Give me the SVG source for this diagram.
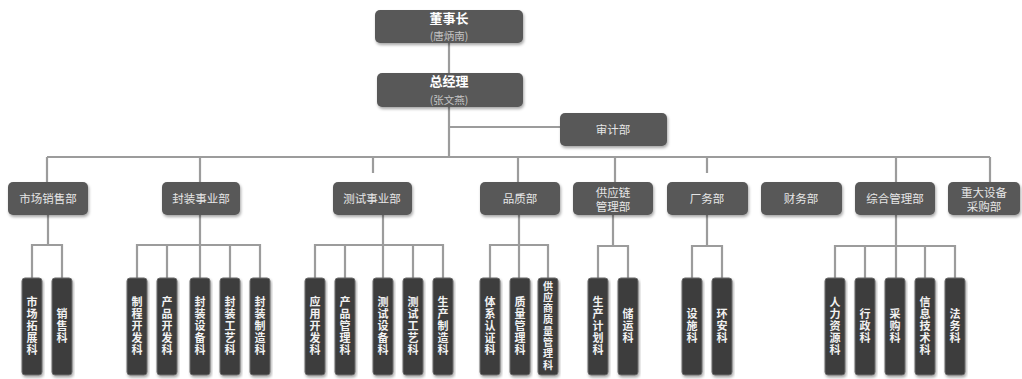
<svg xmlns="http://www.w3.org/2000/svg" width="1022" height="379" viewBox="0 0 1022 379">
<defs>
<filter id="sh" x="-10%" y="-10%" width="125%" height="135%">
<feDropShadow dx="1" dy="2" stdDeviation="1.5" flood-color="#000" flood-opacity="0.35"/>
</filter>
<style>
.box{fill:#595959;filter:url(#sh);}
.leaf{fill:#3e3e3e;stroke:#6a6a6a;stroke-width:1;filter:url(#sh);}
.ln{stroke:#9c9c9c;stroke-width:2.2;fill:none;}
.t{font-family:"Noto Sans CJK SC","Noto Sans",sans-serif;fill:#ffffff;text-anchor:middle;}
.big{font-size:13px;font-weight:bold;}
.sub{font-size:10.5px;fill:#c4c4c4;}
.dep{font-size:11.5px;fill:#e6e6e6;}
.lt{font-size:11px;font-weight:bold;fill:#f2f2f2;writing-mode:vertical-rl;letter-spacing:1px;}
.lt8{font-size:10px;letter-spacing:1.3px;}
</style>
</defs>
<rect width="1022" height="379" fill="#ffffff"/>
<g id="connectors">
<path class="ln" d="M449 43V157M449 127H560M47 157H990"/>
<path class="ln" d="M47 157V182M200 157V182M373 157V173M518 157V182M615 157V182M707 157V173M896 157V182M990 157V182"/>
<path class="ln" d="M48 215V245M32 278V245H62V278"/>
<path class="ln" d="M200 215V278M137 278V245H260V278M167 245V278M230 245V278"/>
<path class="ln" d="M383 215V278M315 278V245H443V278M345 245V278M413 245V278"/>
<path class="ln" d="M519 215V278M490 278V245H548V278"/>
<path class="ln" d="M613 215V246M598 278V246H628V278"/>
<path class="ln" d="M707 215V246M692 278V246H722V278"/>
<path class="ln" d="M896 215V278M835 278V246H955V278M865 246V278M925 246V278"/>
</g>
<g id="n-chairman"><rect class="box" x="375" y="10" width="148" height="33" rx="5"/><text class="t big" x="449" y="22.5">董事长</text><text class="t sub" x="449" y="40">(唐炳南)</text></g>
<g id="n-gm"><rect class="box" x="377" y="73" width="146" height="34" rx="5"/><text class="t big" x="449" y="86">总经理</text><text class="t sub" x="449" y="103.5">(张文燕)</text></g>
<g id="n-audit"><rect class="box" x="560" y="113" width="107" height="33" rx="5"/><text class="t dep" x="613" y="134">审计部</text></g>
<g id="n-sales"><rect class="box" x="8" y="182" width="80" height="33" rx="5"/><text class="t dep" x="48" y="203">市场销售部</text></g>
<g id="n-pack"><rect class="box" x="162" y="182" width="78" height="33" rx="5"/><text class="t dep" x="201" y="203">封装事业部</text></g>
<g id="n-test"><rect class="box" x="333" y="182" width="79" height="33" rx="5"/><text class="t dep" x="372" y="203">测试事业部</text></g>
<g id="n-quality"><rect class="box" x="480" y="182" width="80" height="33" rx="5"/><text class="t dep" x="520" y="203">品质部</text></g>
<g id="n-scm"><rect class="box" x="573" y="182" width="80" height="33" rx="5"/><text class="t dep" x="613" y="197">供应链</text><text class="t dep" x="613" y="211">管理部</text></g>
<g id="n-facility"><rect class="box" x="667" y="182" width="81" height="33" rx="5"/><text class="t dep" x="707" y="203">厂务部</text></g>
<g id="n-finance"><rect class="box" x="761" y="182" width="81" height="33" rx="5"/><text class="t dep" x="801" y="203">财务部</text></g>
<g id="n-admin"><rect class="box" x="855" y="182" width="80" height="33" rx="5"/><text class="t dep" x="895" y="203">综合管理部</text></g>
<g id="n-equip"><rect class="box" x="948" y="182" width="72" height="33" rx="5"/><text class="t dep" x="984" y="197">重大设备</text><text class="t dep" x="984" y="211">采购部</text></g>

<g id="l-1"><rect class="leaf" x="22" y="278" width="20" height="97" rx="3"/><text class="t lt" x="32" y="326">市场拓展科</text></g>
<g id="l-2"><rect class="leaf" x="52" y="278" width="20" height="97" rx="3"/><text class="t lt" x="62" y="326">销售科</text></g>
<g id="l-3"><rect class="leaf" x="127" y="278" width="20" height="97" rx="3"/><text class="t lt" x="137" y="326">制程开发科</text></g>
<g id="l-4"><rect class="leaf" x="157" y="278" width="20" height="97" rx="3"/><text class="t lt" x="167" y="326">产品开发科</text></g>
<g id="l-5"><rect class="leaf" x="190" y="278" width="20" height="97" rx="3"/><text class="t lt" x="200" y="326">封装设备科</text></g>
<g id="l-6"><rect class="leaf" x="220" y="278" width="20" height="97" rx="3"/><text class="t lt" x="230" y="326">封装工艺科</text></g>
<g id="l-7"><rect class="leaf" x="250" y="278" width="20" height="97" rx="3"/><text class="t lt" x="260" y="326">封装制造科</text></g>
<g id="l-8"><rect class="leaf" x="305" y="278" width="20" height="97" rx="3"/><text class="t lt" x="315" y="326">应用开发科</text></g>
<g id="l-9"><rect class="leaf" x="335" y="278" width="20" height="97" rx="3"/><text class="t lt" x="345" y="326">产品管理科</text></g>
<g id="l-10"><rect class="leaf" x="373" y="278" width="20" height="97" rx="3"/><text class="t lt" x="383" y="326">测试设备科</text></g>
<g id="l-11"><rect class="leaf" x="403" y="278" width="20" height="97" rx="3"/><text class="t lt" x="413" y="326">测试工艺科</text></g>
<g id="l-12"><rect class="leaf" x="433" y="278" width="20" height="97" rx="3"/><text class="t lt" x="443" y="326">生产制造科</text></g>
<g id="l-13"><rect class="leaf" x="480" y="278" width="20" height="97" rx="3"/><text class="t lt" x="490" y="326">体系认证科</text></g>
<g id="l-14"><rect class="leaf" x="510" y="278" width="20" height="97" rx="3"/><text class="t lt" x="520" y="326">质量管理科</text></g>
<g id="l-15"><rect class="leaf" x="538" y="278" width="20" height="97" rx="3"/><text class="t lt lt8" x="548" y="326">供应商质量管理科</text></g>
<g id="l-16"><rect class="leaf" x="588" y="278" width="20" height="97" rx="3"/><text class="t lt" x="598" y="326">生产计划科</text></g>
<g id="l-17"><rect class="leaf" x="618" y="278" width="20" height="97" rx="3"/><text class="t lt" x="628" y="326">储运科</text></g>
<g id="l-18"><rect class="leaf" x="682" y="278" width="20" height="97" rx="3"/><text class="t lt" x="692" y="326">设施科</text></g>
<g id="l-19"><rect class="leaf" x="712" y="278" width="20" height="97" rx="3"/><text class="t lt" x="722" y="326">环安科</text></g>
<g id="l-20"><rect class="leaf" x="825" y="278" width="20" height="97" rx="3"/><text class="t lt" x="835" y="326">人力资源科</text></g>
<g id="l-21"><rect class="leaf" x="855" y="278" width="20" height="97" rx="3"/><text class="t lt" x="865" y="326">行政科</text></g>
<g id="l-22"><rect class="leaf" x="885" y="278" width="20" height="97" rx="3"/><text class="t lt" x="895" y="326">采购科</text></g>
<g id="l-23"><rect class="leaf" x="915" y="278" width="20" height="97" rx="3"/><text class="t lt" x="925" y="326">信息技术科</text></g>
<g id="l-24"><rect class="leaf" x="945" y="278" width="20" height="97" rx="3"/><text class="t lt" x="955" y="326">法务科</text></g>
</svg>
